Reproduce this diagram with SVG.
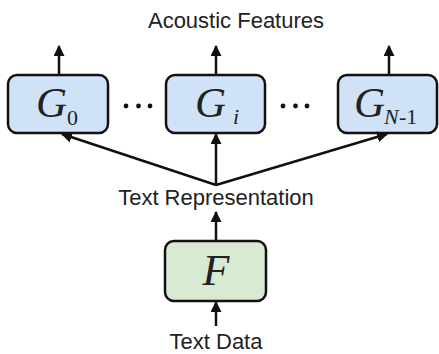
<svg xmlns="http://www.w3.org/2000/svg" width="439" height="354" viewBox="0 0 439 354">
<defs>
<marker id="ah" viewBox="0 0 10 10" refX="9" refY="5" markerWidth="4.4" markerHeight="4.4" orient="auto" markerUnits="strokeWidth">
<path d="M0,0 L10,5 L0,10 z" fill="#111"/>
</marker>
<style>
.box{stroke:#111;stroke-width:2.5}
.g{fill:#cfe2f7}
.f{fill:#d9ead3}
.lbl{font-family:"Liberation Sans",Arial,sans-serif;font-size:22px;fill:#222;text-anchor:middle}
.m{font-family:"Liberation Serif","Times New Roman",serif;font-style:italic;fill:#222}
.sub{font-family:"Liberation Serif","Times New Roman",serif;fill:#222}
.c{stroke:#111;stroke-width:2.5;fill:none;marker-end:url(#ah)}
.dot{fill:#111}
</style>
</defs>
<text class="lbl" x="236" y="28">Acoustic Features</text>
<g id="G0">
<rect class="box g" x="8" y="75" width="100" height="58" rx="9"/>
<text class="m" x="36" y="117" font-size="43">G</text>
<text class="sub" x="67" y="125" font-size="22">0</text>
</g>
<g id="Gi">
<rect class="box g" x="166" y="75" width="99" height="58" rx="9"/>
<text class="m" x="195" y="117" font-size="43">G</text>
<text class="m" x="233" y="124" font-size="22">i</text>
</g>
<g id="GN1">
<rect class="box g" x="338" y="75" width="99" height="58" rx="9"/>
<text class="m" x="354" y="117" font-size="43">G</text>
<text class="m" x="384" y="124" font-size="22">N</text>
<text class="sub" x="399" y="124" font-size="22">-1</text>
</g>
<g id="dots1">
<circle class="dot" cx="126" cy="106" r="2.4"/>
<circle class="dot" cx="138.5" cy="106" r="2.4"/>
<circle class="dot" cx="150" cy="106" r="2.4"/>
</g>
<g id="dots2">
<circle class="dot" cx="283" cy="106" r="2.4"/>
<circle class="dot" cx="295.5" cy="106" r="2.4"/>
<circle class="dot" cx="307" cy="106" r="2.4"/>
</g>
<text class="lbl" x="216" y="205">Text Representation</text>
<g id="F">
<rect class="box f" x="165" y="241" width="101" height="60" rx="9"/>
<text class="m" x="216" y="285" font-size="44" text-anchor="middle">F</text>
</g>
<text class="lbl" x="216" y="349">Text Data</text>
<g id="connectors">
<path class="c" d="M59,75 L59,46"/>
<path class="c" d="M216,75 L216,46"/>
<path class="c" d="M389,75 L389,46"/>
<path class="c" d="M216,185 L62,134"/>
<path class="c" d="M216,185 L216,134"/>
<path class="c" d="M216,185 L387,134"/>
<path class="c" d="M216,241 L216,212"/>
<path class="c" d="M216,326 L216,302"/>
</g>
</svg>
